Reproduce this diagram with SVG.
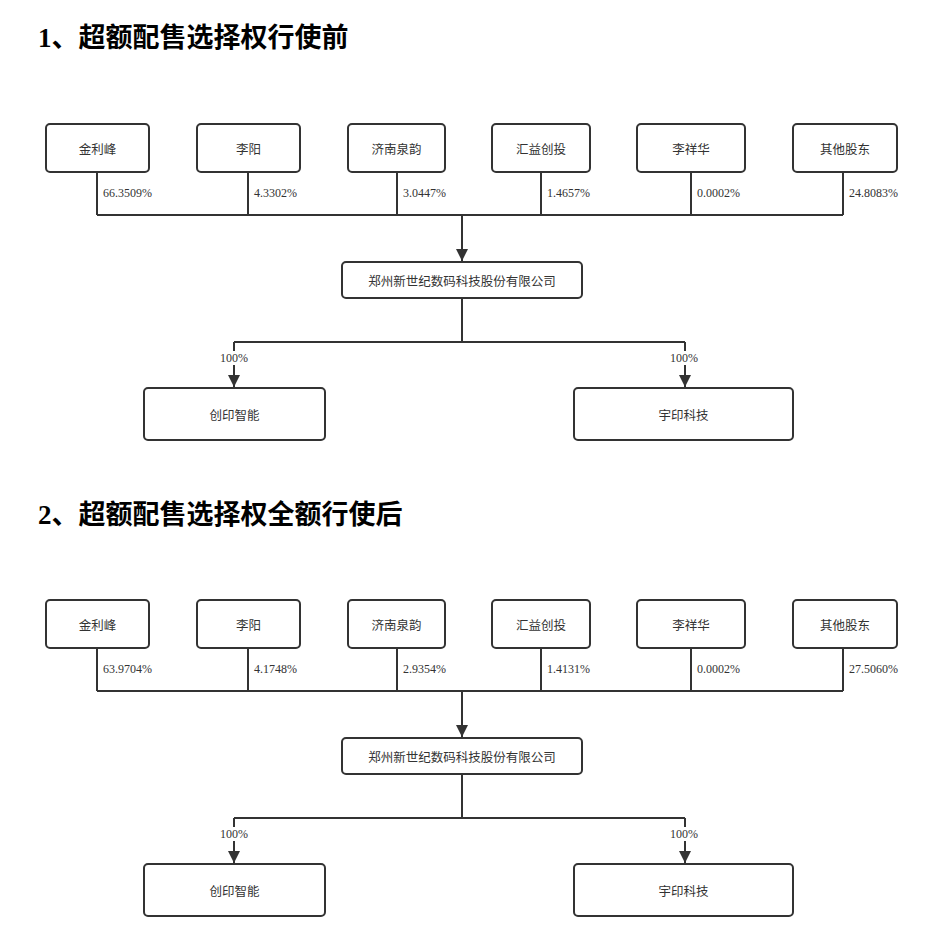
<svg xmlns="http://www.w3.org/2000/svg" width="941" height="936" viewBox="0 0 941 936">
<style>
.t{font-family:"Liberation Serif","Noto Sans CJK SC",serif;font-weight:bold;font-size:27px;fill:#000}
.b{fill:#fff;stroke:#333;stroke-width:2}
.n{font-family:"Noto Sans CJK SC",sans-serif;font-size:12.5px;fill:#333;text-anchor:middle;dominant-baseline:central}
.p{font-family:"Liberation Serif",serif;font-size:12px;fill:#333}
.l{fill:none;stroke:#333;stroke-width:2}
</style>
<defs>
<marker id="a" viewBox="0 0 10 10" refX="10" refY="5" markerWidth="6" markerHeight="6" orient="auto" markerUnits="strokeWidth"><path d="M0,0 L10,5 L0,10 z" fill="#333"/></marker>
<g id="chart">
<g id="connectors">
<path class="l" d="M97,172V215M248,172V215M397,172V215M541,172V215M691,172V215M843,172V215M97,215H843"/>
<path class="l" d="M462,215V261" marker-end="url(#a)"/>
<path class="l" d="M462,298V342M234,342H685"/>
<path class="l" d="M234,342V387" marker-end="url(#a)"/>
<path class="l" d="M685,342V387" marker-end="url(#a)"/>
<rect x="219" y="351" width="31" height="14" fill="#fff"/>
<rect x="669" y="351" width="31" height="14" fill="#fff"/>
</g>
<g id="n1"><rect class="b" x="46" y="124" width="103" height="48" rx="4"/><text class="n" x="97.5" y="148">金利峰</text></g>
<g id="n2"><rect class="b" x="197" y="124" width="103" height="48" rx="4"/><text class="n" x="248.5" y="148">李阳</text></g>
<g id="n3"><rect class="b" x="348" y="124" width="97" height="48" rx="4"/><text class="n" x="396.5" y="148">济南泉韵</text></g>
<g id="n4"><rect class="b" x="492" y="124" width="98" height="48" rx="4"/><text class="n" x="541" y="148">汇益创投</text></g>
<g id="n5"><rect class="b" x="637" y="124" width="108" height="48" rx="4"/><text class="n" x="691" y="148">李祥华</text></g>
<g id="n6"><rect class="b" x="793" y="124" width="104" height="48" rx="4"/><text class="n" x="845" y="148">其他股东</text></g>
<g id="n7"><rect class="b" x="342" y="262" width="240" height="36" rx="4"/><text class="n" x="462" y="280">郑州新世纪数码科技股份有限公司</text></g>
<g id="n8"><rect class="b" x="144" y="388" width="181" height="52" rx="4"/><text class="n" x="234.5" y="414">创印智能</text></g>
<g id="n9"><rect class="b" x="574" y="388" width="219" height="52" rx="4"/><text class="n" x="683.5" y="414">宇印科技</text></g>
<text class="p" x="220" y="362">100%</text>
<text class="p" x="670" y="362">100%</text>
</g>
</defs>
<rect width="941" height="936" fill="#fff"/>
<text class="t" x="38" y="47">1、超额配售选择权行使前</text>
<use href="#chart"/>
<g>
<text class="p" x="103" y="197">66.3509%</text>
<text class="p" x="254" y="197">4.3302%</text>
<text class="p" x="403" y="197">3.0447%</text>
<text class="p" x="547" y="197">1.4657%</text>
<text class="p" x="697" y="197">0.0002%</text>
<text class="p" x="849" y="197">24.8083%</text>
</g>
<text class="t" x="38" y="524">2、超额配售选择权全额行使后</text>
<use href="#chart" y="476"/>
<g>
<text class="p" x="103" y="673">63.9704%</text>
<text class="p" x="254" y="673">4.1748%</text>
<text class="p" x="403" y="673">2.9354%</text>
<text class="p" x="547" y="673">1.4131%</text>
<text class="p" x="697" y="673">0.0002%</text>
<text class="p" x="849" y="673">27.5060%</text>
</g>
</svg>
